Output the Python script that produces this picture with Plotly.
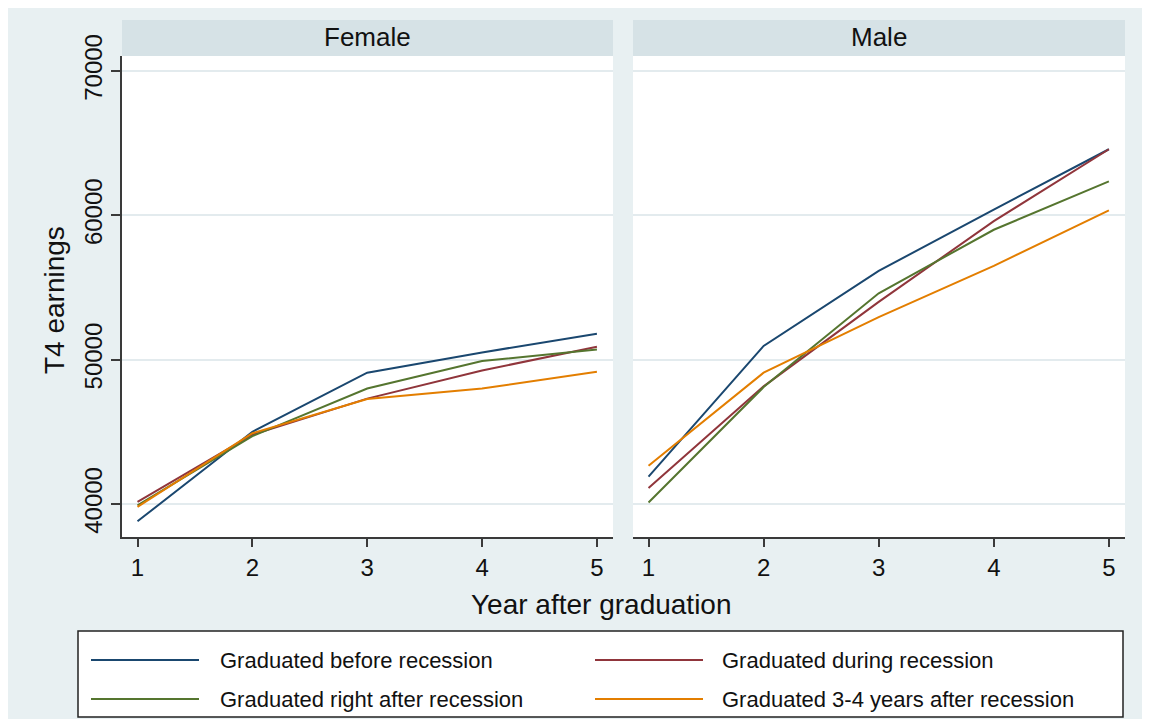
import plotly.graph_objects as go

# ---------------- data ----------------
years = [1, 2, 3, 4, 5]
panels = ["Female", "Male"]
series_names = [
    "Graduated before recession",
    "Graduated during recession",
    "Graduated right after recession",
    "Graduated 3-4 years after recession",
]
female_before = [38800, 45000, 49100, 50500, 51800]
female_during = [40150, 44800, 47300, 49250, 50900]
female_right_after = [39900, 44700, 48000, 49900, 50700]
female_3_4_after = [39800, 44900, 47280, 48000, 49170]
male_before = [41900, 50950, 56150, 60400, 64580]
male_during = [41100, 48150, 54000, 59600, 64580]
male_right_after = [40100, 48100, 54600, 59000, 62350]
male_3_4_after = [42650, 49100, 52950, 56500, 60350]
y_ticks = [40000, 50000, 60000, 70000]
x_ticks = [1, 2, 3, 4, 5]

colors = ["#1a476f", "#90353b", "#55752f", "#e37e00"]

female = [female_before, female_during, female_right_after, female_3_4_after]
male = [male_before, male_during, male_right_after, male_3_4_after]

# ---------------- layout helpers ----------------
# figure sits inside the page body (8px default margin)
OFF = 8
W, H = 1134, 711
def fx(x):  # page px -> paper fraction
    return (x - OFF) / W
def fy(y):
    return 1 - (y - OFF) / H

FONT = "Liberation Sans, Arial, Helvetica, sans-serif"
BG = "#e8f0f2"
STRIP = "#d6e2e6"
GRID = "#e3ebee"
AXC = "#3a3a3a"

fig = go.Figure()

for vals, name, col in zip(female, series_names, colors):
    fig.add_trace(go.Scatter(x=years, y=vals, name=name, mode="lines",
                             line=dict(color=col, width=2),
                             xaxis="x", yaxis="y", showlegend=False))
for vals, name, col in zip(male, series_names, colors):
    fig.add_trace(go.Scatter(x=years, y=vals, name=name, mode="lines",
                             line=dict(color=col, width=2),
                             xaxis="x2", yaxis="y2", showlegend=False))

y_range = [37713, 71040]
x_range = [0.865, 5.14]
ydom = [fy(537), fy(56)]

common_x = dict(range=x_range, tickvals=x_ticks, ticktext=[str(t) for t in x_ticks],
                showline=True, linecolor=AXC, linewidth=1.5, ticks="outside",
                ticklen=8, tickwidth=1.5, tickcolor=AXC, showgrid=False, zeroline=False,
                automargin=False,
                tickfont=dict(family=FONT, size=24, color="#111"))

fig.update_layout(
    width=W, height=H,
    margin=dict(l=0, r=0, t=0, b=0, pad=0, autoexpand=False),
    paper_bgcolor=BG,
    plot_bgcolor="white",
    xaxis=dict(domain=[fx(122), fx(613)], anchor="y", **common_x),
    xaxis2=dict(domain=[fx(633), fx(1125)], anchor="y2", **common_x),
    yaxis=dict(domain=ydom, range=y_range, tickvals=y_ticks,
               ticktext=[str(t) for t in y_ticks], tickangle=-90,
               showline=True, linecolor=AXC, linewidth=1.5, ticks="outside",
               ticklen=9, tickwidth=1.5, tickcolor=AXC, automargin=False,
               showgrid=True, gridcolor=GRID, gridwidth=2, zeroline=False,
               tickfont=dict(family=FONT, size=24, color="#111")),
    yaxis2=dict(domain=ydom, range=y_range, tickvals=y_ticks, anchor="x2",
                showticklabels=False, showline=False, ticks="", automargin=False,
                showgrid=True, gridcolor=GRID, gridwidth=2, zeroline=False),
    showlegend=False,
)

shapes = []
annotations = []

# strips
for (x0, x1), label in zip([(122, 613), (633, 1125)], panels):
    shapes.append(dict(type="rect", xref="paper", yref="paper", x0=fx(x0), x1=fx(x1),
                       y0=fy(56), y1=fy(20), fillcolor=STRIP, line=dict(width=0), layer="below"))
    annotations.append(dict(text=label, xref="paper", yref="paper", x=fx((x0 + x1) / 2),
                            y=fy(37), showarrow=False, xanchor="center", yanchor="middle",
                            font=dict(family=FONT, size=26, color="#111")))

# axis titles
annotations.append(dict(text="Year after graduation", xref="paper", yref="paper",
                        x=fx(601), y=fy(604), showarrow=False, xanchor="center", yanchor="middle",
                        font=dict(family=FONT, size=28, color="#111")))
annotations.append(dict(text="T4 earnings", xref="paper", yref="paper", textangle=-90,
                        x=fx(55), y=fy(300), showarrow=False, xanchor="center", yanchor="middle",
                        font=dict(family=FONT, size=28, color="#111")))

# legend box
shapes.append(dict(type="rect", xref="paper", yref="paper", x0=fx(78), x1=fx(1123),
                   y0=fy(717), y1=fy(631), fillcolor="white",
                   line=dict(color="#222", width=1.5), layer="below"))
leg_pos = [(91, 199, 218, 660), (595, 703, 720, 660), (91, 199, 218, 699), (595, 703, 720, 699)]
for (lx0, lx1, tx, ly), name, col in zip(leg_pos, series_names, colors):
    shapes.append(dict(type="line", xref="paper", yref="paper", x0=fx(lx0), x1=fx(lx1),
                       y0=fy(ly), y1=fy(ly), line=dict(color=col, width=2)))
    annotations.append(dict(text=name, xref="paper", yref="paper", x=fx(tx), y=fy(ly),
                            showarrow=False, xanchor="left", yanchor="middle",
                            font=dict(family=FONT, size=22, color="#111")))

fig.update_layout(shapes=shapes, annotations=annotations)

fig.write_html("out.html")
